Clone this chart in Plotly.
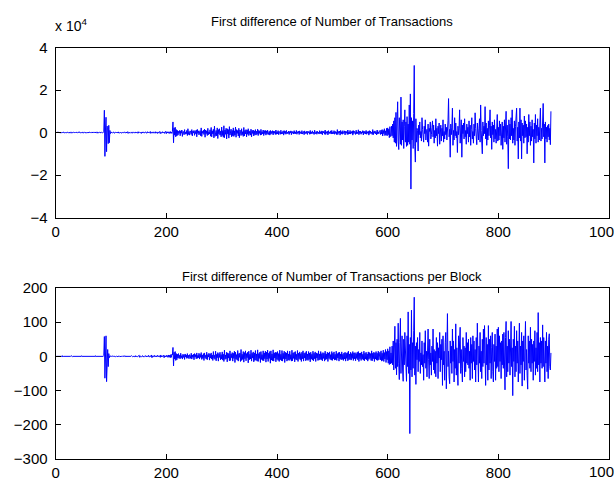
import plotly.graph_objects as go

# First difference of the daily number of transactions, in hundreds of transactions
tx_early = [
    0, 1, -1, 0, 2, -1, 0, 1, -2, 1, 0, 0, 1, -1, 2, -2, 1, 0, -1, 1,
    0, 2, -1, -1, 1, 0, 3, -3, 1, 0, -1, 2, -1, 0, 1, -2, 2, 0, -1, 1,
    1, -1, 0, 2, -2, 1, 0, -1, 3, -2, 0, 1, -1, 1, 0, -2, 2, -1, 0, 1,
    -1, 2, 0, -2, 1, 1, -2, 0, 3, -2, 1, -1, 0, 2, -3, 2, 0, -1, 1, 0,
    1, -1, 2, 0, -2, 1, 6, 105, -112, 12, 72, -90, 30, 25, -52, 34, -48, 10, -5, 2,
    0, 2, -2, 1, 3, -3, 0, 1, -1, 2, -2, 0, 3, -2, 1, -1, 0, 2, -3, 2,
    1, -2, 0, 3, -1, -2, 2, 0, -1, 4, -4, 1, 0, 2, -2, 1, -1, 3, -3, 0,
    2, -1, -1, 3, -2, 0, 1, -3, 4, -2, 0, 1, -1, 2, -4, 3, 0, -2, 2, 1,
    -2, 3, -1, 0, -3, 4, -1, 2, -2, 0, 5, -4, 1, -1, 3, -3, 2, 0, -2, 4,
    -3, 1, 2, -4, 3, -1, 0, 5, -5, 2, 1, -3, 4, -2, 0, 3, -4, 2, 6, -5,
    3, -2, 4, -3, 2, -4, 5, -3, 2, -4, 6, 50, -48, 22, -12, 25, -20, 14, -16, 10,
]
tx_middle = [
    -12, 6, -4, 10, -15, 8, -3, 12, -18, 6, 4, -10, 14, -8, 2, -6, 10, -14, 18, -9,
    5, -12, 8, 3, -9, 14, -16, 7, -2, 10, -13, 6, -5, 12, -20, 15, -4, 8, -11, 4,
    9, -15, 22, -18, 6, -3, 11, -9, 16, -22, 12, -5, 8, -14, 20, -10, 3, -7, 13, -17,
    24, -20, 8, -6, 15, -25, 30, -18, 4, 10, -16, 22, -28, 14, -6, 18, -12, 6, -20, 26,
    -14, 9, -22, 32, -24, 12, -8, 20, -30, 18, -6, 14, -26, 28, -12, 4, 16, -20, 10, -15,
    22, -18, 8, -12, 26, -22, 14, -4, 10, -16, 20, -24, 12, 6, -14, 18, -10, 4, -18, 24,
    -16, 10, -6, 14, -20, 12, -8, 18, -14, 6, 8, -12, 16, -20, 10, -4, 12, -16, 8, -10,
    14, -12, 6, -8, 16, -14, 10, -4, 8, -12, 15, -10, 4, -6, 12, -14, 9, -5, 10, -12,
    8, -6, 11, -10, 4, 6, -12, 10, -8, 5, -4, 9, -11, 7, -3, 6, -9, 12, -8, 4,
    -6, 9, -10, 5, 3, -8, 11, -7, 2, -5, 8, -12, 9, -4, 6, -8, 10, -6, 2, -4,
    7, -9, 5, -2, 8, -10, 6, -3, 4, -7, 9, -5, 3, -6, 10, -8, 4, -2, 6, -9,
    8, -4, 2, -6, 9, -7, 3, 5, -10, 8, -5, 2, -4, 7, -9, 6, -1, 4, -8, 10,
    -7, 3, -5, 8, -4, 2, -9, 11, -6, 3, 5, -8, 6, -3, 2, -7, 9, -5, 4, -6,
    8, -10, 7, -2, 5, -8, 12, -9, 4, -3, 6, -11, 9, -5, 3, -4, 8, -7, 10, -6,
    2, -5, 9, -8, 6, -4, 3, -10, 14, -9, 5, -2, 7, -12, 10, -6, 4, -8, 9, -3,
    -4, 8, -11, 6, -2, 5, -9, 12, -8, 3, -6, 10, -7, 4, -3, 8, -12, 9, -5, 6,
    3, -9, 11, -6, 2, -5, 13, -10, 6, -4, 7, -8, 3, -2, 9, -11, 7, -4, 5, -7,
    10, -8, 4, -3, 6, -12, 9, -5, 7, -4, 2, -9, 14, -10, 5, -3, 8, -6, 4, -11,
    12, -7, 3, -5, 9,
    6, -9, 12, -7, 14, -16, 10, -5, 18, -14, 8, -12, 20, -15, 22, -10, 16, -24, 28, -18,
]
tx_late = [
    -18, 30, -15, 40, -25, 55, -45, 70, -50, 95, -65, 50, 145, -40, -80, 70, 30, -55, 167, -60,
    50, -35, 60, -75, 30, 107, -45, 50, -65, 75, -60, 40, -45, 130, -55, 182, -266, 70, -35, 55,
    -75, 90, 316, -65, -139, 65, -45, 20, 10, -87, 35, -10, 50, -25, 5, -40, 70, 15, -20, -45,
    30, -5, 60, -35, 10, 15, -45, 40, -64, 20, 5, 50, -30, -10, 25, 55, -20, 35, -50, 10,
    -25, 65, -15, 20, -64, 30, -5, 45, -55, 10, 35, -40, 20, -15, 60, -45, 5, -30, 40, -10,
    25, -35, 10, 55, 160, -20, 15, -116, 40, -10, 25, 115, -60, 10, -35, 70, -15, 45, -25, 5,
    -94, 30, -10, 20, 107, -50, 15, 60, -116, 35, -5, 45, -30, 65, -20, 10, -55, 40, -5, 25,
    -45, 55, -20, 35, -60, 15, 70, -30, 5, -50, 40, -15, 93, 20, -30, -57, 45,
    15, -35, 20, 65, -45, 130, 10, -40, -100, 50, -15, 30, -5, 122, -30, 45, -60, 20, -35, 55,
    -15, 35, 107, -25, 30, -79, 50, -10, 35, -45, 60, -30, 15, -50, 45, 85, -40, 25,
    -35, 55, -15, 40, -60, 20, 50, -79, 30, -25, 60, -45, 10, 100, -55, 35, -20, -170, 60, -30,
    40, -35, 70, -15, 107, -50, 20, -35, 55, -60, 30, 75, 115, -40, 25, -124, 50, -25,
    115, -40, 60, -124, 45, -15, 35, -50, 78, -25, 55, -20, 40, -100, 25, -45, 85, -15, 50, -60,
    30, -40, 60, -20, 15, -143, 45, -30, 85, -50, 35, -15, 65, -45, 25, -35, 55, 115, -40, 20,
    -30, 60, 137, -20, 40, -143, 50, -30, 25, -45, 33, -20, 40, -35, 20, -57, 100,
]

# First difference of the number of transactions per block
tpb_early = [
    0, 0, 1, -1, 0, 0, 0, 1, -1, 0, 0, 2, -2, 0, 0, 0, 1, -1, 0, 0,
    0, 1, -1, 0, 0, 0, 0, 2, -1, -1, 0, 0, 1, 0, -1, 0, 0, 0, 1, -1,
    0, 0, 0, 1, -1, 0, 2, -2, 0, 0, 1, -1, 0, 0, 0, 0, 1, -1, 0, 0,
    1, -1, 0, 0, 0, 1, -1, 0, 0, 0, 0, 2, -2, 0, 0, 1, -1, 0, 0, 0,
    0, 0, 1, 0, -1, 0, 2, 58, -64, 4, 60, -74, 10, 20, -30, 8, -4, 1, 0, 0,
    0, 1, -1, 0, 0, 1, 0, -1, 0, 1, -1, 0, 0, 0, 1, -1, 1, 0, 0, -1,
    1, 0, -1, 0, 2, -2, 0, 0, 1, -1, 0, 1, 0, -1, 0, 0, 2, -1, -1, 0,
    0, 1, -1, 2, -2, 0, 1, -1, 0, 0, 3, -3, 1, 0, -1, 0, 2, -2, 0, 1,
    -1, 0, 2, -2, 1, 0, -1, 3, -2, 0, 1, -1, 4, -4, 0, 2, -1, -1, 3, -2,
    0, 1, -2, 3, -1, -1, 2, 0, -3, 4, -2, 1, -1, 0, 3, -4, 2, 0, -2, 3,
    -1, 2, -3, 4, -2, 3, -4, 5, -3, 6, 4, 26, -28, 12, -8, 14, -12, 8, -10, 6,
]
tpb_middle = [
    -5, 8, -6, 3, -7, 9, -4, 2, -8, 6, -3, 5, -9, 7, -2, 4, -6, 8, -5, 3,
    -7, 5, 2, -6, 9, -8, 4, -3, 6, -10, 8, -2, 5, -7, 10, -6, 3, -4, 9, -8,
    6, -3, 11, -9, 4, -6, 8, -12, 10, -4, 3, -8, 12, -10, 5, -2, 9, -11, 7, -5,
    10, -8, 4, -12, 14, -6, 3, -9, 15, -13, 6, -4, 11, -14, 8, -3, 12, -10, 5, -8,
    13, -11, 6, -15, 18, -9, 4, -7, 12, -16, 10, -5, 8, -13, 16, -12, 7, -4, 11, -14,
    9, -6, 15, -18, 12, -8, 5, -11, 17, -14, 8, -3, 10, -15, 20, -12, 6, -9, 14, -17,
    11, -7, 16, -13, 8, -4, 12, -19, 15, -10, 6, -8, 18, -14, 9, -5, 13, -16, 10, -12,
    17, -11, 7, -14, 19, -15, 8, -6, 12, -18, 14, -9, 5, -12, 16, -13, 10, -7, 15, -17,
    12, -8, 18, -15, 9, -6, 14, -20, 16, -11, 7, -13, 19, -14, 10, -5, 12, -16, 11, -9,
    14, -12, 8, -15, 18, -10, 6, -13, 17, -14, 9, -7, 15, -18, 12, -8, 10, -14, 16, -11,
    7, -12, 15, -9, 5, -14, 18, -13, 10, -6, 12, -16, 14, -9, 6, -11, 17, -15, 9, -7,
    13, -10, 8, -15, 12, -7, 16, -14, 9, -5, 11, -13, 15, -10, 7, -12, 14, -9, 10, -16,
    12, -8, 6, -11, 15, -13, 9, -7, 13, -15, 10, -5, 8, -12, 16, -11, 7, -9, 14, -10,
    8, -13, 11, -6, 9, -14, 15, -10, 7, -8, 12, -15, 10, -6, 13, -9, 5, -11, 14, -12,
    9, -7, 13, -11, 6, -10, 15, -12, 8, -5, 11, -14, 12, -8, 7, -10, 13, -9, 6, -12,
    10, -8, 12, -14, 9, -6, 11, -13, 15, -10, 7, -9, 12, -11, 8, -6, 14, -12, 10, -7,
    11, -13, 8, -6, 12, -10, 14, -15, 9, -7, 10, -12, 13, -8, 6, -11, 15, -13, 9, -8,
    12, -10, 7, -14, 13, -9, 11, -6, 8, -12, 16, -13, 9, -7, 12, -15, 10, -8, 14, -11,
    9, -12, 15, -10, 7,
    12, -10, 16, -14, 9, -12, 18, -15, 11, -8, 20, -18, 14, -10, 22, -20, 16, -24, 28, -22,
]
tpb_late = [
    10, -20, 30, -25, 45, -40, 25, 88, -35, 40, -54, 50, -30, 97, -20, -68, 40, 111, -50, 30,
    60, -40, -73, 50, -25, 70, 30, -55, -73, 60, -30, 130, -50, 35, -226, 55, -40, 135, -60, 40,
    -35, 75, 173, -55, 30, -82, 40, -10, 55, -45, 20, -15, 70, -50, 10, -25, 45, -30, 5, -70,
    40, -20, 75, -35, 15, -60, 25, 80, -10, -65, 50, -25, 10, -55, 30, -15, 80, -40, 20, -50,
    15, -60, 55, -20, 40, -65, 25, -5, 70, -45, 35, -10, 50, -85, 60, -25, 15, -70, 40, 70,
    -95, 40, 125, -30, 15, -60, -80, 45, -20, 30, -50, 80, -15, 45, -75, 20, -35, 95, -55, 25,
    -30, -85, 60, -20, 45, 85, -50, 20, -35, -75, 55, -15, 30, -60, 25, -45, 70, -20, 40, -25,
    50, -35, 15, -70, 55, -20, 35, -65, 60, -15, 45, -40, 20, -75, 55, -25, 97,
    40, -75, 30, -20, 70, -45, 15, -65, 50, -30, 80, -20, 90, -45, -85, 55, -25, 35, -70, 90,
    -40, 50, -20, 60, -65, 25, 70, -45, -75, 35, -15, 65, -70, 30, -35, 80, -30, 85,
    -45, 60, -15, 40, -65, 45, -25, 65, -35, 70, 20, -98, 55, 102, -60, 30, -45, 75, -20, 50,
    -55, 35, 102, -30, 25, -115, 50, -15, 88, -60, 30, -45, 75, -20, 45, -75, 40, 97,
    -50, 30, -25, 70, -87, 45, -15, 60, -70, 35, 102, -40, 20, -55, -96, 60, -20, 45, -35, 85,
    -45, 50, -20, 35, -70, 45, -15, 75, -55, 25, -35, 70, -45, 128, -25, 40, -75, 55, -20, 45,
    -35, 92, -30, 55, -40, -75, 45, -20, 70, -45, 30, -65, 50, 66, -30, -40, 10,
]

x_ticks = [0, 200, 400, 600, 800, 1000]
x_tick_text = ["0", "200", "400", "600", "800", ""]
edge_label = "1000"
top_ticks = [-4, -2, 0, 2, 4]
bottom_ticks = [-300, -200, -100, 0, 100, 200]

tx_diff = tx_early + tx_middle + tx_late
tpb_diff = tpb_early + tpb_middle + tpb_late
tx_scaled = [v * 100 / 1e4 for v in tx_diff]

FONT = "Liberation Sans, Arial, sans-serif"
W, H = 614, 491

fig = go.Figure()
fig.add_trace(go.Scatter(x=list(range(1, len(tx_diff) + 1)), y=tx_scaled,
                         mode="lines", line=dict(color="#0000FF", width=1),
                         xaxis="x", yaxis="y", showlegend=False))
fig.add_trace(go.Scatter(x=list(range(1, len(tpb_diff) + 1)), y=tpb_diff,
                         mode="lines", line=dict(color="#0000FF", width=1),
                         xaxis="x2", yaxis="y2", showlegend=False))

def px_x(p):
    return p / W

def px_y(p):
    return 1 - p / H

tick_font = dict(family=FONT, size=15, color="black")

axis_style = dict(showline=True, linecolor="black", linewidth=1, mirror="ticks",
                  ticks="inside", ticklen=5, tickcolor="black", showgrid=False,
                  zeroline=False, tickfont=tick_font)

fig.update_layout(
    width=W, height=H,
    margin=dict(l=0, r=0, t=0, b=0),
    paper_bgcolor="white", plot_bgcolor="white",
    xaxis=dict(domain=[px_x(52), px_x(609)], range=[0, 1000], tickvals=x_ticks,
               ticktext=x_tick_text, anchor="y", **axis_style),
    yaxis=dict(domain=[px_y(216), px_y(40)], range=[-4, 4], tickvals=top_ticks,
               anchor="x", ticklabelstandoff=4, **axis_style),
    xaxis2=dict(domain=[px_x(52), px_x(609)], range=[0, 1000], tickvals=x_ticks,
                ticktext=x_tick_text, anchor="y2", **axis_style),
    yaxis2=dict(domain=[px_y(466), px_y(289)], range=[-300, 200], tickvals=bottom_ticks,
                anchor="x2", ticklabelstandoff=4, **axis_style),
    annotations=[
        dict(text="First difference of Number of Transactions", x=px_x(330), y=px_y(13),
             xref="paper", yref="paper", showarrow=False, xanchor="center", yanchor="middle",
             font=dict(family=FONT, size=13, color="black")),
        dict(text="First difference of Number of Transactions per Block", x=px_x(330),
             y=px_y(277), xref="paper", yref="paper", showarrow=False, xanchor="center",
             yanchor="middle", font=dict(family=FONT, size=13, color="black")),
        dict(text="x 10<sup>4</sup>", x=px_x(49), y=px_y(17), xref="paper", yref="paper",
             showarrow=False, xanchor="left", yanchor="middle",
             font=dict(family=FONT, size=14, color="black")),
        dict(text=edge_label, x=px_x(605), y=px_y(230), xref="paper", yref="paper",
             showarrow=False, xanchor="center", yanchor="middle", font=tick_font),
        dict(text=edge_label, x=px_x(605), y=px_y(479), xref="paper", yref="paper",
             showarrow=False, xanchor="center", yanchor="middle", font=tick_font),
    ],
)

fig.write_html("out.html")
